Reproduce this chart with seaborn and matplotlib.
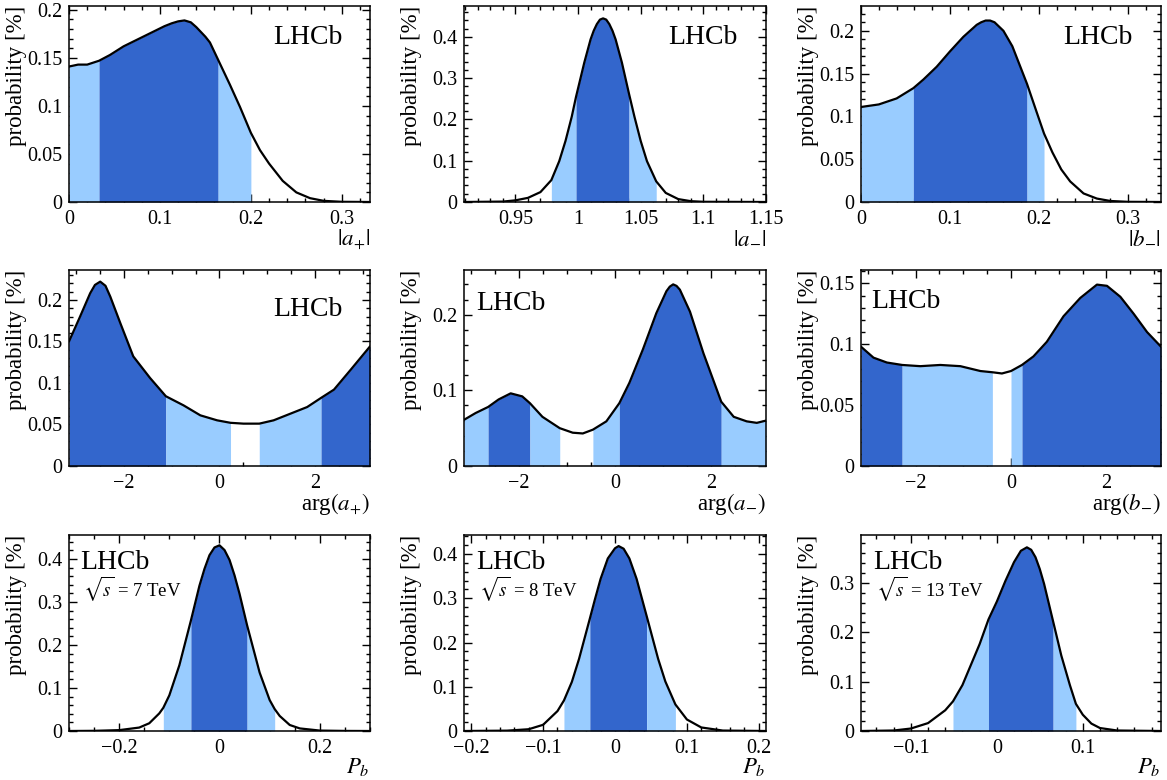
import numpy as np
import seaborn as sns
import matplotlib.pyplot as plt
from matplotlib.ticker import AutoMinorLocator, MultipleLocator, FuncFormatter

# |a+|
ap_x = [0, 0.01, 0.02, 0.033, 0.045, 0.06, 0.075, 0.09, 0.105, 0.113, 0.12, 0.127, 0.134, 0.14, 0.15, 0.155,
        0.164, 0.177, 0.188, 0.200, 0.21, 0.22, 0.235, 0.25, 0.265, 0.28, 0.30, 0.331]
ap_y = [0.141, 0.143, 0.143, 0.147, 0.153, 0.162, 0.169, 0.176, 0.183, 0.186, 0.188, 0.189, 0.187, 0.182,
        0.172, 0.166, 0.148, 0.122, 0.099, 0.072, 0.054, 0.040, 0.022, 0.010, 0.004, 0.0012, 0.0002, 0.0]
ap_edges = [0, 0.033, 0.164, 0.200]
ap_kinds = ['light', 'dark', 'light']

# |a-|
am_x = [0.909, 0.94, 0.95, 0.96, 0.97, 0.9787, 0.985, 0.99, 0.995, 0.9984, 1.005, 1.01, 1.0125, 1.015,
        1.0175, 1.02, 1.0225, 1.025, 1.0275, 1.03, 1.035, 1.0407, 1.045, 1.05, 1.055, 1.0624, 1.07,
        1.08, 1.09, 1.10, 1.15]
am_y = [0.0, 0.001, 0.004, 0.010, 0.024, 0.053, 0.099, 0.148, 0.207, 0.255, 0.338, 0.394, 0.415, 0.431,
        0.442, 0.445, 0.442, 0.431, 0.415, 0.394, 0.338, 0.262, 0.207, 0.148, 0.099, 0.050, 0.022,
        0.007, 0.002, 0.0005, 0.0]
am_edges = [0.9787, 0.9984, 1.0407, 1.0624]
am_kinds = ['light', 'dark', 'light']

# |b-|
bm_x = [0, 0.02, 0.04, 0.0588, 0.07, 0.085, 0.10, 0.115, 0.13, 0.135, 0.14, 0.145, 0.15, 0.16, 0.17,
        0.1865, 0.197, 0.2056, 0.215, 0.225, 0.235, 0.25, 0.265, 0.28, 0.30, 0.337]
bm_y = [0.111, 0.114, 0.121, 0.133, 0.143, 0.158, 0.176, 0.193, 0.207, 0.210, 0.212, 0.212, 0.210,
        0.200, 0.182, 0.138, 0.106, 0.080, 0.058, 0.038, 0.024, 0.010, 0.004, 0.0012, 0.0002, 0.0]
bm_edges = [0, 0.0588, 0.1865, 0.2056]
bm_kinds = ['light', 'dark', 'light']

# arg(a+)
gp_x = [-3.1416, -2.91, -2.70, -2.60, -2.49, -2.38, -2.28, -2.07, -1.80, -1.45, -1.12, -0.75, -0.40,
        -0.05, 0.23, 0.50, 0.83, 1.13, 1.48, 1.83, 2.12, 2.39, 2.74, 3.1416]
gp_y = [0.150, 0.180, 0.208, 0.218, 0.222, 0.217, 0.204, 0.172, 0.132, 0.106, 0.084, 0.073, 0.061,
        0.055, 0.052, 0.051, 0.051, 0.055, 0.063, 0.071, 0.082, 0.092, 0.116, 0.144]
gp_edges = [-3.1416, -1.12, 0.23, 0.83, 2.12, 3.1416]
gp_kinds = ['dark', 'light', None, 'light', 'dark']

# arg(a-)
gm_x = [-3.1416, -2.90, -2.64, -2.42, -2.17, -1.93, -1.77, -1.51, -1.15, -0.88, -0.67, -0.46, -0.18,
        0.09, 0.30, 0.58, 0.86, 1.07, 1.14, 1.21, 1.28, 1.35, 1.56, 1.84, 2.21, 2.47, 2.74, 2.95, 3.1416]
gm_y = [0.061, 0.070, 0.078, 0.088, 0.096, 0.092, 0.083, 0.065, 0.050, 0.044, 0.043, 0.048, 0.059,
        0.083, 0.110, 0.154, 0.202, 0.231, 0.237, 0.240, 0.238, 0.233, 0.204, 0.149, 0.085, 0.065,
        0.059, 0.057, 0.060]
gm_edges = [-3.1416, -2.64, -1.77, -1.15, -0.46, 0.09, 2.21, 3.1416]
gm_kinds = ['light', 'dark', 'light', None, 'light', 'dark', 'light']

# arg(b-)
gb_x = [-3.1416, -2.88, -2.60, -2.28, -1.90, -1.48, -1.06, -0.64, -0.39, -0.19, 0.0, 0.23, 0.47,
        0.75, 1.10, 1.45, 1.80, 2.01, 2.29, 2.57, 2.85, 3.1416]
gb_y = [0.098, 0.089, 0.085, 0.083, 0.082, 0.083, 0.082, 0.078, 0.077, 0.076, 0.078, 0.083, 0.090,
        0.102, 0.123, 0.138, 0.149, 0.148, 0.139, 0.125, 0.110, 0.098]
gb_edges = [-3.1416, -2.28, -0.39, 0.0, 0.23, 3.1416]
gb_kinds = ['dark', 'light', None, 'light', 'dark']

# P_b, 7 TeV
p7_x = [-0.30, -0.25, -0.20, -0.16, -0.14, -0.12, -0.112, -0.10, -0.08, -0.057, -0.04, -0.03, -0.02,
        -0.01, 0.0, 0.01, 0.02, 0.03, 0.04, 0.055, 0.08, 0.10, 0.11, 0.12, 0.14, 0.16, 0.20, 0.25, 0.30]
p7_y = [0.0, 0.0004, 0.002, 0.008, 0.018, 0.041, 0.054, 0.083, 0.153, 0.257, 0.338, 0.377, 0.409,
        0.427, 0.432, 0.421, 0.398, 0.362, 0.319, 0.246, 0.136, 0.072, 0.051, 0.035, 0.014, 0.006,
        0.001, 0.0002, 0.0]
p7_edges = [-0.112, -0.057, 0.055, 0.11]
p7_kinds = ['light', 'dark', 'light']

# P_b, 8 TeV
p8_x = [-0.21, -0.15, -0.12, -0.10, -0.08, -0.071, -0.06, -0.05, -0.035, -0.028, -0.02, -0.01, 0.0,
        0.005, 0.012, 0.02, 0.03, 0.044, 0.06, 0.07, 0.084, 0.10, 0.12, 0.15, 0.21]
p8_y = [0.0, 0.0008, 0.004, 0.014, 0.045, 0.069, 0.111, 0.163, 0.254, 0.297, 0.344, 0.390, 0.413,
        0.418, 0.412, 0.390, 0.344, 0.260, 0.163, 0.112, 0.060, 0.026, 0.008, 0.001, 0.0]
p8_edges = [-0.071, -0.035, 0.044, 0.084]
p8_kinds = ['light', 'dark', 'light']

# P_b, 13 TeV
p13_x = [-0.158, -0.12, -0.10, -0.08, -0.06, -0.051, -0.04, -0.02, -0.0097, 0.0, 0.01, 0.02, 0.028,
         0.035, 0.04, 0.045, 0.05, 0.055, 0.0655, 0.075, 0.085, 0.092, 0.10, 0.11, 0.12, 0.14, 0.191]
p13_y = [0.0, 0.001, 0.005, 0.016, 0.042, 0.060, 0.093, 0.176, 0.226, 0.262, 0.304, 0.342, 0.365,
         0.372, 0.367, 0.352, 0.328, 0.298, 0.222, 0.153, 0.093, 0.055, 0.033, 0.015, 0.006, 0.001, 0.0]
p13_edges = [-0.051, -0.0097, 0.0655, 0.092]
p13_kinds = ['light', 'dark', 'light']

x_labels = [r'$|a_{+}|$', r'$|a_{-}|$', r'$|b_{-}|$',
            r'arg$(a_{+})$', r'arg$(a_{-})$', r'arg$(b_{-})$',
            r'$P_b$', r'$P_b$', r'$P_b$']
energies = [None, None, None, None, None, None, '7 TeV', '8 TeV', '13 TeV']

sns.set_theme(style='ticks')
plt.rcParams['font.family'] = ['Liberation Serif', 'DejaVu Serif']
plt.rcParams['mathtext.fontset'] = 'stix'
plt.rcParams.update({'text.color': 'black', 'axes.labelcolor': 'black',
                     'xtick.color': 'black', 'ytick.color': 'black'})

DARK = '#3366cc'
LIGHT = '#99ccff'


def fmt(v, pos):
    if abs(v) < 1e-9:
        return '0'
    return f'{v:g}'.replace('-', '\u2212')


panels = [
    (ap_x, ap_y, ap_edges, ap_kinds, (0, 0.331), 0.204, 0.1, 0.05, 5),
    (am_x, am_y, am_edges, am_kinds, (0.909, 1.15), 0.475, 0.05, 0.1, 5),
    (bm_x, bm_y, bm_edges, bm_kinds, (0, 0.337), 0.229, 0.1, 0.05, 5),
    (gp_x, gp_y, gp_edges, gp_kinds, (-np.pi, np.pi), 0.236, 2, 0.05, 4),
    (gm_x, gm_y, gm_edges, gm_kinds, (-np.pi, np.pi), 0.259, 2, 0.1, 4),
    (gb_x, gb_y, gb_edges, gb_kinds, (-np.pi, np.pi), 0.161, 2, 0.05, 4),
    (p7_x, p7_y, p7_edges, p7_kinds, (-0.3, 0.3), 0.456, 0.2, 0.1, 4),
    (p8_x, p8_y, p8_edges, p8_kinds, (-0.21, 0.21), 0.443, 0.1, 0.1, 5),
    (p13_x, p13_y, p13_edges, p13_kinds, (-0.158, 0.191), 0.397, 0.1, 0.1, 5),
]

# LHCb label position (axes fraction, left edge)
lhcb_pos = [(0.68, 0.84), (0.675, 0.84), (0.673, 0.84),
            (0.68, 0.80), (0.04, 0.83), (0.035, 0.84),
            (0.037, 0.86), (0.04, 0.86), (0.04, 0.86)]

W, H = 1167, 780
cols = [(69, 370), (464, 766), (861, 1161)]
rows = [(6, 202), (270, 466), (535, 731)]

fig = plt.figure(figsize=(W / 100, H / 100), dpi=100)

for i, (x, y, edges, kinds, xlim, ytop, xstep, ystep, xminor) in enumerate(panels):
    l, r = cols[i % 3]
    t, b = rows[i // 3]
    ax = fig.add_axes([l / W, 1 - b / H, (r - l) / W, (b - t) / H])
    xa = np.asarray(x)
    ya = np.asarray(y)
    for lo, hi, kind in zip(edges[:-1], edges[1:], kinds):
        if kind is None:
            continue
        m = (xa >= lo - 1e-9) & (xa <= hi + 1e-9)
        ax.fill_between(xa[m], 0, ya[m], color=DARK if kind == 'dark' else LIGHT, lw=0)
    sns.lineplot(x=xa, y=ya, ax=ax, color='black', lw=1.6)

    ax.set_xlim(*xlim)
    ax.set_ylim(0, ytop)
    ax.xaxis.set_major_locator(MultipleLocator(xstep))
    ax.yaxis.set_major_locator(MultipleLocator(ystep))
    ax.xaxis.set_minor_locator(AutoMinorLocator(xminor))
    ax.yaxis.set_minor_locator(AutoMinorLocator(5))
    ax.xaxis.set_major_formatter(FuncFormatter(fmt))
    ax.yaxis.set_major_formatter(FuncFormatter(fmt))
    ax.tick_params(which='both', direction='in', top=True, right=True, width=1, colors='black',
                   labelsize=14.5)
    ax.tick_params(which='major', length=6)
    ax.tick_params(axis='x', which='major', pad=6)
    ax.tick_params(axis='y', which='major', pad=5)
    ax.tick_params(which='minor', length=3)
    for s in ax.spines.values():
        s.set_linewidth(1.1)
        s.set_color('black')

    ax.set_ylabel('probability [%]', fontsize=16.5, loc='top')
    ax.yaxis.set_label_coords(-0.14, 1.0)
    ax.set_xlabel(x_labels[i], fontsize=16.5, loc='right')
    ax.xaxis.set_label_coords(1.0, -0.13)

    lx, ly = lhcb_pos[i]
    ax.text(lx, ly, 'LHCb', transform=ax.transAxes, fontsize=20, ha='left', va='center')
    if energies[i]:
        ax.text(lx + 0.01, ly - 0.135, r'$\sqrt{s}$ = ' + energies[i], transform=ax.transAxes,
                fontsize=13.5, ha='left', va='center')

fig.savefig('out.png', dpi=100)
